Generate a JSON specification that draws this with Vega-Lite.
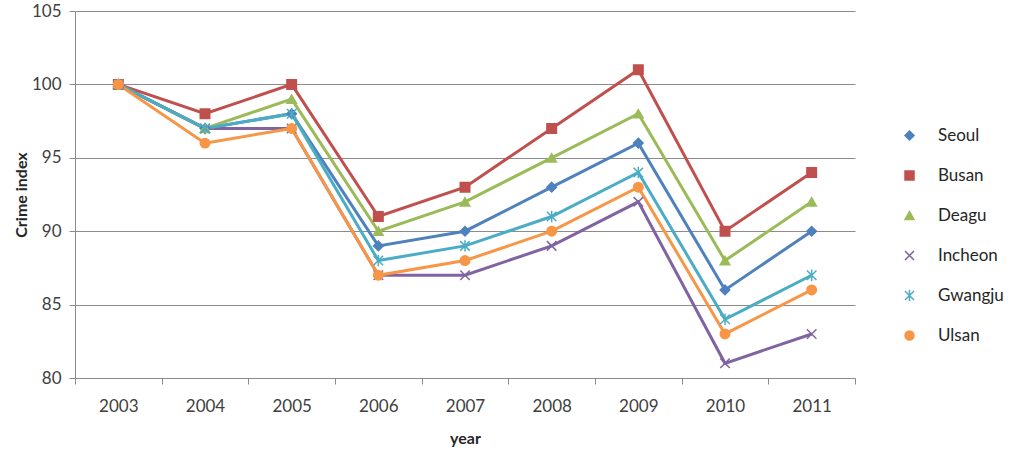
{
  "$schema": "https://vega.github.io/schema/vega-lite/v6.json",
  "width": 780,
  "height": 367,
  "autosize": {"type": "none"},
  "padding": {"left": 75, "top": 11, "right": 156, "bottom": 75},
  "background": "white",
  "config": {
    "font": "Lato",
    "view": {"stroke": null},
    "axis": {"labelColor": "#404040", "labelFontSize": 17, "titleColor": "#262626", "titleFontSize": 16, "titleFontWeight": "bold", "domainColor": "#8c8c8c", "tickColor": "#8c8c8c", "gridColor": "#8c8c8c"},
    "legend": {"padding": 0}
  },
  "data": {
    "values": [
      {"year": "2003", "city": "Seoul", "value": 100}, {"year": "2004", "city": "Seoul", "value": 97}, {"year": "2005", "city": "Seoul", "value": 98}, {"year": "2006", "city": "Seoul", "value": 89}, {"year": "2007", "city": "Seoul", "value": 90}, {"year": "2008", "city": "Seoul", "value": 93}, {"year": "2009", "city": "Seoul", "value": 96}, {"year": "2010", "city": "Seoul", "value": 86}, {"year": "2011", "city": "Seoul", "value": 90},
      {"year": "2003", "city": "Busan", "value": 100}, {"year": "2004", "city": "Busan", "value": 98}, {"year": "2005", "city": "Busan", "value": 100}, {"year": "2006", "city": "Busan", "value": 91}, {"year": "2007", "city": "Busan", "value": 93}, {"year": "2008", "city": "Busan", "value": 97}, {"year": "2009", "city": "Busan", "value": 101}, {"year": "2010", "city": "Busan", "value": 90}, {"year": "2011", "city": "Busan", "value": 94},
      {"year": "2003", "city": "Deagu", "value": 100}, {"year": "2004", "city": "Deagu", "value": 97}, {"year": "2005", "city": "Deagu", "value": 99}, {"year": "2006", "city": "Deagu", "value": 90}, {"year": "2007", "city": "Deagu", "value": 92}, {"year": "2008", "city": "Deagu", "value": 95}, {"year": "2009", "city": "Deagu", "value": 98}, {"year": "2010", "city": "Deagu", "value": 88}, {"year": "2011", "city": "Deagu", "value": 92},
      {"year": "2003", "city": "Incheon", "value": 100}, {"year": "2004", "city": "Incheon", "value": 97}, {"year": "2005", "city": "Incheon", "value": 97}, {"year": "2006", "city": "Incheon", "value": 87}, {"year": "2007", "city": "Incheon", "value": 87}, {"year": "2008", "city": "Incheon", "value": 89}, {"year": "2009", "city": "Incheon", "value": 92}, {"year": "2010", "city": "Incheon", "value": 81}, {"year": "2011", "city": "Incheon", "value": 83},
      {"year": "2003", "city": "Gwangju", "value": 100}, {"year": "2004", "city": "Gwangju", "value": 97}, {"year": "2005", "city": "Gwangju", "value": 98}, {"year": "2006", "city": "Gwangju", "value": 88}, {"year": "2007", "city": "Gwangju", "value": 89}, {"year": "2008", "city": "Gwangju", "value": 91}, {"year": "2009", "city": "Gwangju", "value": 94}, {"year": "2010", "city": "Gwangju", "value": 84}, {"year": "2011", "city": "Gwangju", "value": 87},
      {"year": "2003", "city": "Ulsan", "value": 100}, {"year": "2004", "city": "Ulsan", "value": 96}, {"year": "2005", "city": "Ulsan", "value": 97}, {"year": "2006", "city": "Ulsan", "value": 87}, {"year": "2007", "city": "Ulsan", "value": 88}, {"year": "2008", "city": "Ulsan", "value": 90}, {"year": "2009", "city": "Ulsan", "value": 93}, {"year": "2010", "city": "Ulsan", "value": 83}, {"year": "2011", "city": "Ulsan", "value": 86}
    ]
  },
  "encoding": {
    "x": {"field": "year", "type": "ordinal", "scale": {"type": "band", "paddingInner": 0, "paddingOuter": 0},
      "axis": {"title": "year", "labelAngle": 0, "tickBand": "extent", "labelPadding": 14, "titlePadding": 16, "tickSize": 6}},
    "y": {"field": "value", "type": "quantitative", "scale": {"domain": [80, 105], "nice": false, "zero": false},
      "axis": {"title": "Crime index", "values": [80, 85, 90, 95, 100, 105], "tickSize": 6, "labelPadding": 8, "titlePadding": 2, "grid": true}}
  },
  "layer": [
    {
      "mark": {"type": "line", "strokeWidth": 3},
      "encoding": {
        "color": {"field": "city", "type": "nominal",
          "scale": {"domain": ["Seoul", "Busan", "Deagu", "Incheon", "Gwangju", "Ulsan"], "range": ["#4F81BD", "#C0504D", "#9BBB59", "#8064A2", "#4BACC6", "#F79646"]}}
      }
    },
    {
      "mark": {"type": "point", "filled": true, "opacity": 1, "size": 90, "strokeWidth": 1.5},
      "encoding": {
        "color": {"field": "city", "type": "nominal", "title": null,
          "scale": {"domain": ["Seoul", "Busan", "Deagu", "Incheon", "Gwangju", "Ulsan"], "range": ["#4F81BD", "#C0504D", "#9BBB59", "#8064A2", "#4BACC6", "#F79646"]},
          "legend": {"orient": "none", "legendX": 826, "legendY": 116, "rowPadding": 22, "labelFontSize": 17, "labelColor": "#262626", "symbolSize": 81, "labelOffset": 20}},
        "stroke": {"field": "city", "type": "nominal", "legend": null,
          "scale": {"domain": ["Seoul", "Busan", "Deagu", "Incheon", "Gwangju", "Ulsan"], "range": ["#4F81BD", "#C0504D", "#9BBB59", "#8064A2", "#4BACC6", "#F79646"]}},
        "shape": {"field": "city", "type": "nominal", "title": null,
          "scale": {"domain": ["Seoul", "Busan", "Deagu", "Incheon", "Gwangju", "Ulsan"], "range": ["diamond", "square", "triangle-up", "M-1,-1L1,1M-1,1L1,-1", "M-1,-1L1,1M-1,1L1,-1M0,-1.2L0,1.2", "circle"]}}
      }
    }
  ]
}
